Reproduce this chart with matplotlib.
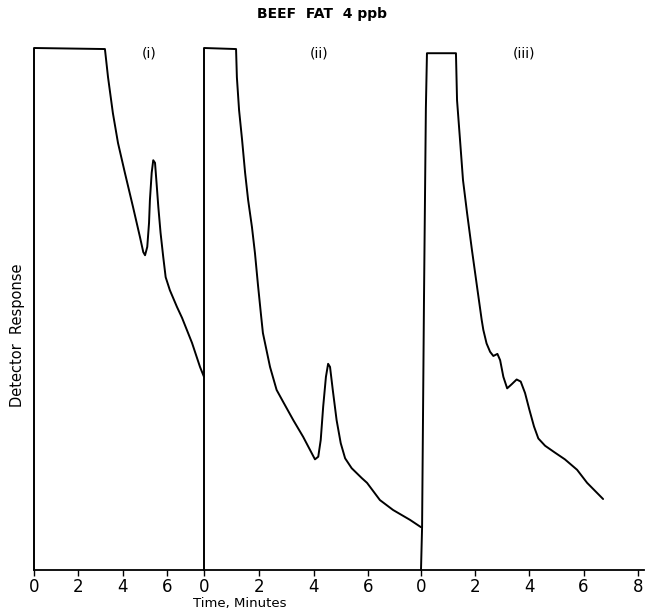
import matplotlib
matplotlib.use("Agg")
from matplotlib import pyplot as plt

# chromatogram (i)
time_i = [0.0, 0.0, 3.20, 3.34, 3.56, 3.79, 4.10, 4.47, 4.78, 4.93, 5.01, 5.11, 5.19, 5.23,
          5.31, 5.38, 5.46, 5.53, 5.61, 5.71, 5.83, 5.94, 6.13, 6.45, 6.68, 7.13, 7.49, 7.67]
resp_i = [0.0, 100.0, 99.8, 94.4, 87.5, 81.8, 76.1, 69.5, 63.8, 60.9, 60.3, 61.9, 66.5, 70.9,
          76.1, 78.5, 78.0, 74.1, 69.5, 64.6, 60.0, 56.1, 53.6, 50.4, 48.3, 43.5, 38.9, 37.0]

# chromatogram (ii)
time_ii = [0.0, 0.0, 1.17, 1.20, 1.28, 1.39, 1.50, 1.61, 1.75, 1.86, 1.97, 2.08, 2.15, 2.41,
           2.65, 2.89, 3.26, 3.62, 3.87, 4.05, 4.17, 4.26, 4.35, 4.45, 4.53, 4.60, 4.70,
           4.84, 4.99, 5.15, 5.39, 5.76, 5.95, 6.42, 6.90, 7.52, 7.92]
resp_ii = [0.0, 100.0, 99.8, 94.4, 88.1, 82.4, 76.1, 70.9, 65.7, 60.7, 54.6, 48.9, 45.4, 38.9,
           34.5, 32.2, 28.7, 25.5, 23.0, 21.2, 21.7, 24.9, 31.3, 37.0, 39.5, 38.9, 34.5,
           28.7, 24.3, 21.4, 19.5, 17.6, 16.7, 13.4, 11.5, 9.6, 8.2]

# chromatogram (iii)
time_iii = [0.0, 0.04, 0.11, 0.18, 0.22, 1.29, 1.33, 1.44, 1.55, 1.70, 1.88, 2.07, 2.24, 2.30,
            2.42, 2.55, 2.67, 2.82, 2.92, 3.04, 3.18, 3.35, 3.53, 3.68, 3.84, 4.00, 4.17,
            4.33, 4.58, 4.94, 5.31, 5.76, 6.13, 6.72]
resp_iii = [0.0, 8.2, 51.7, 88.5, 99.0, 99.0, 90.0, 82.4, 74.7, 68.4, 61.3, 54.2, 47.9, 46.0,
            43.4, 41.8, 41.0, 41.4, 40.2, 37.0, 34.8, 35.6, 36.5, 36.1, 33.9, 30.7, 27.5,
            25.2, 23.8, 22.5, 21.2, 19.2, 16.7, 13.6]

panel_labels = ["(i)", "(ii)", "(iii)"]
panel_ticks = [[0, 2, 4, 6], [0, 2, 4, 6], [0, 2, 4, 6, 8]]
panel_xmax = [7.67, 7.92, 8.23]

W, H = 645, 612
fig = plt.figure(figsize=(W / 100, H / 100), dpi=100)

# pixel boxes for the three panels: (left, right)
boxes = [(34, 204), (204, 421), (421, 644)]
y_top, y_bot = 48, 570
label_x = [5.2, 4.2, 3.8]

series = [(time_i, resp_i), (time_ii, resp_ii), (time_iii, resp_iii)]
for k, (x0, x1) in enumerate(boxes):
    ax = fig.add_axes([x0 / W, (H - y_bot) / H, (x1 - x0) / W, (y_bot - y_top) / H])
    t, r = series[k]
    ax.plot(t, r, color="black", lw=1.4, clip_on=False,
            solid_joinstyle="round", solid_capstyle="round")
    ax.set_xlim(0, panel_xmax[k])
    ax.set_ylim(0, 100)
    for s in ["top", "right", "left"]:
        ax.spines[s].set_visible(False)
    ax.spines["bottom"].set_linewidth(1.3)
    ax.set_yticks([])
    ax.set_xticks(panel_ticks[k])
    ax.tick_params(axis="x", direction="out", length=4, width=1, labelsize=12, pad=2)
    ax.patch.set_visible(False)
    ax.text(label_x[k], 99, panel_labels[k], fontsize=10, ha="center", va="center")

fig.text(322 / W, 1 - 14 / H, "BEEF  FAT  4 ppb", fontsize=10, fontweight="bold",
         ha="center", va="center")
fig.text(18 / W, 1 - 335 / H, "Detector  Response", fontsize=10.5, rotation=90,
         ha="center", va="center")
fig.text(240 / W, 1.5 / H, "Time, Minutes", fontsize=9.5, ha="center", va="bottom")

plt.savefig("out.png", dpi=100)
